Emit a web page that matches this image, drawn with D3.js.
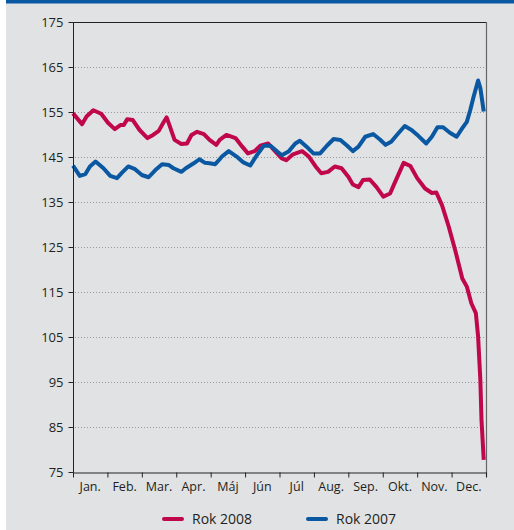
<!DOCTYPE html>
<html>
<head>
<meta charset="utf-8">
<script src="https://cdn.jsdelivr.net/npm/d3@7"></script>
<style>
  body { margin: 0; background: #fff; }
  svg { display: block; font-family: 'Open Sans', sans-serif; }
</style>
</head>
<body>
<div class="canvas"></div>
<script>
// month labels + y ticks
const months = ['Jan.', 'Feb.', 'Mar.', 'Apr.', 'Máj', 'Jún', 'Júl', 'Aug.', 'Sep.', 'Okt.', 'Nov.', 'Dec.'];
const yTicks = [75, 85, 95, 105, 115, 125, 135, 145, 155, 165, 175];

// series (day of year, index value)
const days2008 = [0, 8, 12, 18, 25, 31, 37, 42, 45, 48, 53, 59, 66, 71, 76, 80, 83, 86, 90, 96, 101, 105, 110, 116, 121, 127, 130, 136, 144, 150, 155, 161, 166, 173, 178, 185, 189, 195, 203, 209, 215, 220, 226, 232, 238, 244, 248, 253, 257, 263, 269, 275, 281, 285, 293, 299, 305, 312, 318, 322, 327, 333, 339, 345, 349, 353, 357, 359, 361, 362, 364];
const values2008 = [154.7, 152.3, 154.0, 155.4, 154.6, 152.6, 151.2, 152.1, 152.1, 153.4, 153.2, 151.0, 149.2, 149.9, 150.8, 152.6, 153.8, 151.7, 148.8, 147.9, 148.0, 149.9, 150.6, 150.1, 148.8, 147.7, 148.8, 149.9, 149.2, 147.3, 145.8, 146.3, 147.5, 148.0, 146.6, 144.7, 144.3, 145.6, 146.3, 145.1, 142.9, 141.4, 141.7, 142.9, 142.5, 140.6, 138.9, 138.3, 139.9, 140.0, 138.3, 136.2, 136.9, 139.2, 143.7, 143.0, 140.3, 138.0, 137.0, 137.1, 134.3, 129.5, 124.0, 118.0, 116.2, 112.5, 110.3, 105.1, 95.4, 86.6, 77.7];

const days2007 = [0, 6, 11, 15, 20, 27, 33, 39, 43, 49, 55, 61, 67, 73, 79, 85, 89, 96, 100, 107, 112, 117, 121, 126, 130, 132, 138, 145, 151, 157, 163, 169, 175, 181, 185, 191, 197, 201, 207, 213, 219, 225, 231, 237, 243, 248, 253, 259, 266, 272, 277, 282, 287, 294, 300, 306, 313, 318, 323, 328, 334, 340, 345, 349, 352, 355, 359, 361, 364];
const values2007 = [143.1, 140.8, 141.2, 142.9, 144.0, 142.5, 140.8, 140.3, 141.4, 142.9, 142.3, 141.0, 140.5, 142.1, 143.4, 143.2, 142.5, 141.7, 142.5, 143.6, 144.5, 143.7, 143.6, 143.4, 144.5, 145.1, 146.3, 145.1, 143.8, 143.1, 145.4, 147.5, 147.5, 146.2, 145.4, 146.2, 148.0, 148.6, 147.3, 145.8, 145.8, 147.5, 149.0, 148.8, 147.5, 146.3, 147.3, 149.5, 150.1, 148.9, 147.7, 148.4, 149.9, 151.9, 151.0, 149.7, 148.0, 149.5, 151.6, 151.6, 150.4, 149.5, 151.4, 152.8, 155.4, 158.4, 162.0, 160.3, 155.1];

const series = [
    { name: 'Rok 2008', color: '#c0074b', data: days2008.map((d, i) => [d, values2008[i]]) },
    { name: 'Rok 2007', color: '#0a58a1', data: days2007.map((d, i) => [d, values2007[i]]) }
];

const width = 514, height = 530;
const svg = d3.select('.canvas')
    .append('svg')
    .attr('width', width)
    .attr('height', height);

// background + top bar
svg.append('rect').attr('x', 6).attr('y', 0).attr('width', width - 6).attr('height', height).attr('fill', '#e1e2e4');
svg.append('rect').attr('x', 6).attr('y', 0).attr('width', width - 6).attr('height', 3.5).attr('fill', '#0a58a1');

// plot box
const plot = { left: 73, right: 486, top: 22, bottom: 472 };

// scales
const y = d3.scaleLinear().domain([75, 175]).range([plot.bottom, plot.top]);
const xDay = d3.scaleLinear().domain([0, 366]).range([plot.left, plot.right]);
const xMonth = d3.scaleLinear().domain([0, 12]).range([plot.left, plot.right]);

// grid lines
svg.append('g')
    .selectAll('line')
    .data(yTicks.filter(t => t !== 75 && t !== 175))
    .enter()
    .append('line')
    .attr('x1', plot.left + 2)
    .attr('x2', plot.right - 2)
    .attr('y1', d => y(d) + 0.5)
    .attr('y2', d => y(d) + 0.5)
    .attr('stroke', '#9a9a9a')
    .attr('stroke-width', 1)
    .attr('stroke-dasharray', '1,2');

// frame: top + right
svg.append('line').attr('x1', plot.left).attr('x2', plot.right).attr('y1', plot.top + 0.5).attr('y2', plot.top + 0.5)
    .attr('stroke', '#222').attr('stroke-width', 1);
svg.append('line').attr('x1', plot.right + 0.5).attr('x2', plot.right + 0.5).attr('y1', plot.top).attr('y2', plot.bottom + 5)
    .attr('stroke', '#666').attr('stroke-width', 1.2);

// lines
const line = d3.line()
    .x(d => xDay(d[0]))
    .y(d => y(d[1]));

svg.append('g')
    .selectAll('path')
    .data(series)
    .enter()
    .append('path')
    .attr('d', d => line(d.data))
    .attr('fill', 'none')
    .attr('stroke', d => d.color)
    .attr('stroke-width', 4)
    .attr('stroke-linejoin', 'round');

// y axis
const yAxis = d3.axisLeft(y)
    .tickValues(yTicks)
    .tickSize(5)
    .tickPadding(5);

const yAxisGroup = svg.append('g')
    .attr('transform', `translate(${plot.left + 0.5}, 0)`)
    .call(yAxis);

yAxisGroup.select('.domain').attr('stroke', '#222').attr('d', `M0,${plot.top + 0.5}V${plot.bottom + 0.5}`);
yAxisGroup.selectAll('line').attr('stroke', '#222');
yAxisGroup.selectAll('text')
    .attr('font-size', 13)
    .attr('fill', '#231f20')
    .attr('font-family', 'Open Sans');

// x axis (ticks at month boundaries)
const xAxis = d3.axisBottom(xMonth)
    .tickValues(d3.range(13))
    .tickFormat('')
    .tickSize(5)
    .tickSizeOuter(0);

const xAxisGroup = svg.append('g')
    .attr('transform', `translate(0, ${plot.bottom + 0.5})`)
    .call(xAxis);

xAxisGroup.select('.domain').attr('stroke', '#222');
xAxisGroup.selectAll('line').attr('stroke', '#222');

svg.append('g')
    .selectAll('text')
    .data(months)
    .enter()
    .append('text')
    .attr('x', (d, i) => xMonth(i + 0.5))
    .attr('y', plot.bottom + 19)
    .attr('text-anchor', 'middle')
    .attr('font-size', 12.5)
    .attr('fill', '#231f20')
    .text(d => d);

// legend
const legend = svg.append('g')
    .selectAll('g')
    .data(series)
    .enter()
    .append('g')
    .attr('transform', (d, i) => `translate(${i === 0 ? 164 : 308}, 519)`);

legend.append('line')
    .attr('x1', 0)
    .attr('x2', 18)
    .attr('stroke', d => d.color)
    .attr('stroke-width', 4)
    .attr('stroke-linecap', 'round');

legend.append('text')
    .attr('x', 28)
    .attr('y', 5)
    .attr('font-size', 14)
    .attr('fill', '#231f20')
    .text(d => d.name);
</script>
</body>
</html>
